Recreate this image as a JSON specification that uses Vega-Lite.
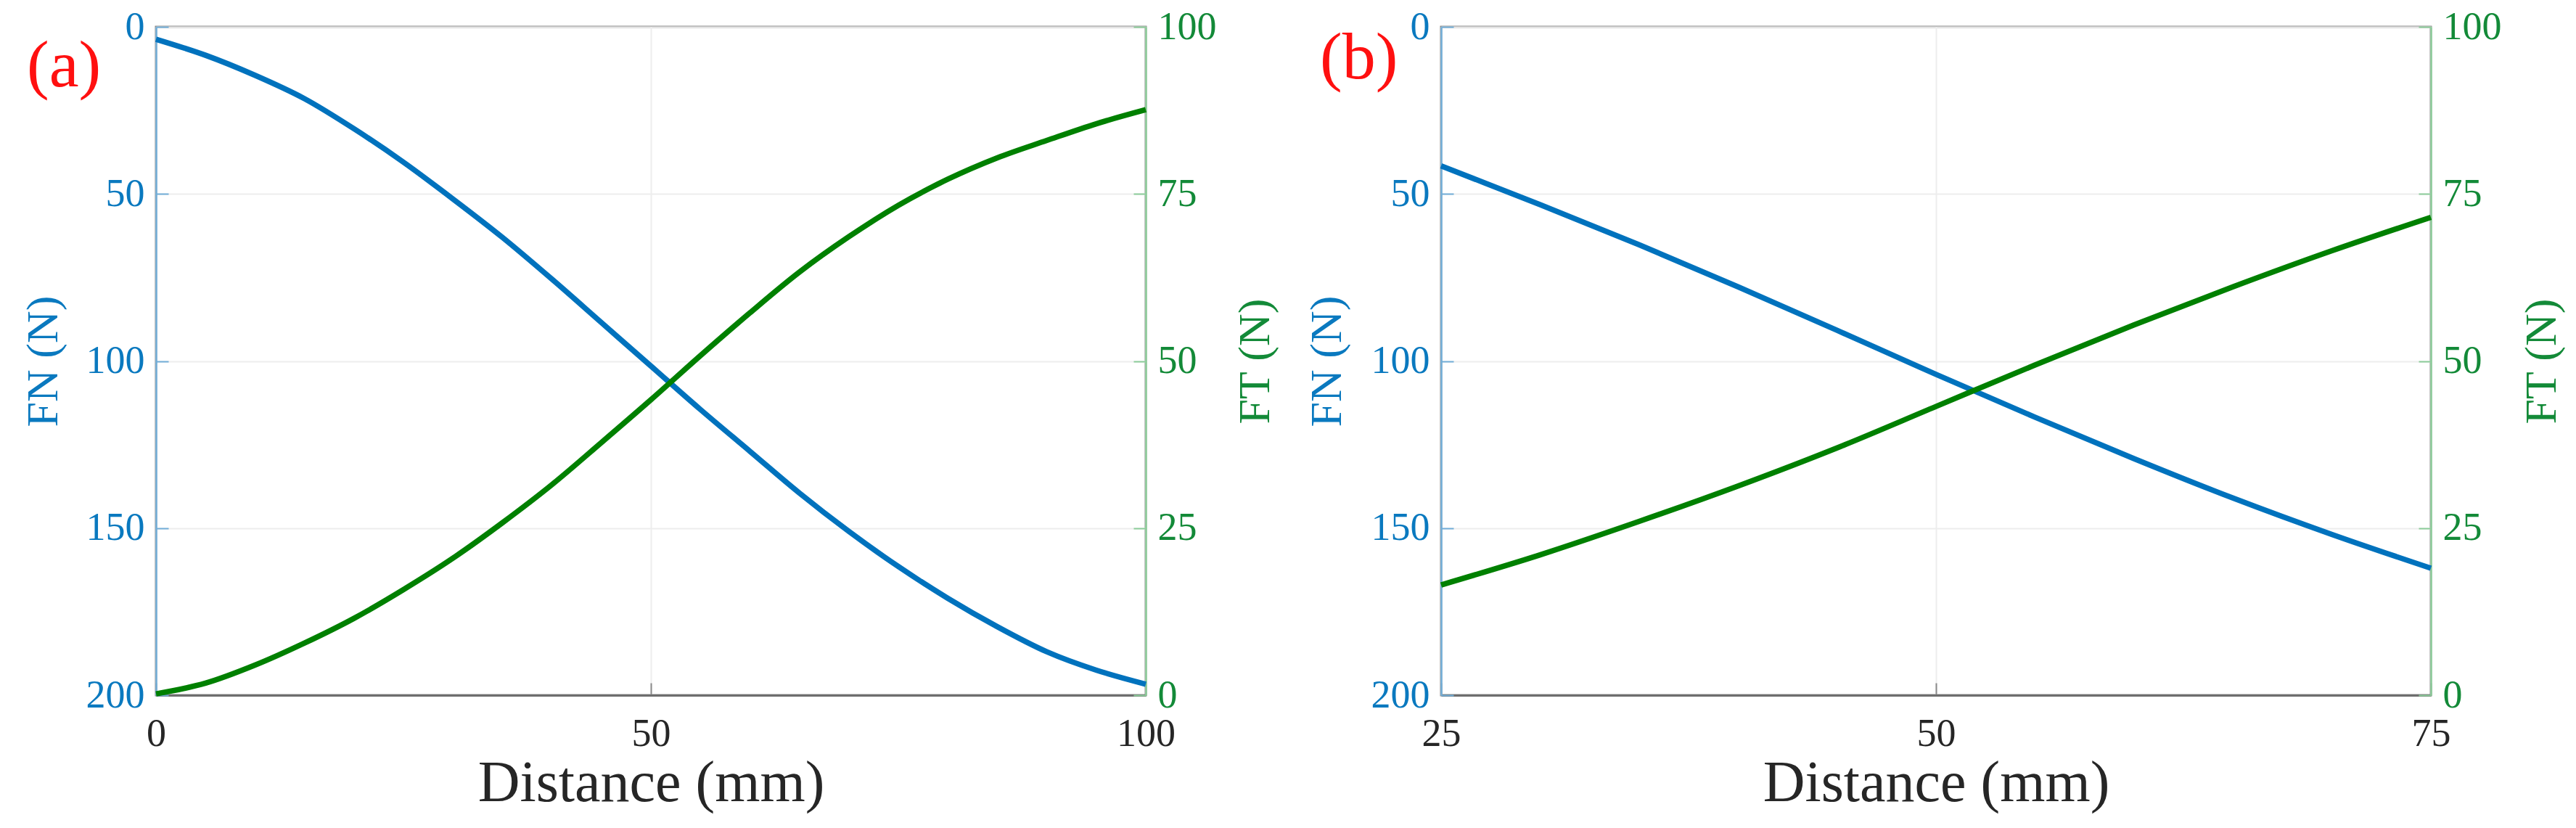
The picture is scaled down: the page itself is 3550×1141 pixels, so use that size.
{
  "$schema": "https://vega.github.io/schema/vega-lite/v6.json",
  "background": "white",
  "padding": {"left": 26, "top": 8, "right": 5, "bottom": 5},
  "bounds": "flush",
  "spacing": 407,
  "config": {
    "view": {"stroke": "#8a8a8a", "strokeWidth": 3},
    "axis": {
      "labelFont": "Liberation Serif", "titleFont": "Liberation Serif", "titleFontWeight": "normal",
      "labelFontSize": 54, "titleFontSize": 62, "labelOverlap": false, "labelFlush": false, "labelBound": false,
      "tickSize": -17, "tickWidth": 2, "domainWidth": 2.5, "gridColor": "#ededed", "gridWidth": 2
    },
    "title": {
      "font": "Liberation Serif", "fontWeight": "normal", "fontSize": 92, "color": "#ff1010",
      "anchor": "start", "frame": "group", "orient": "top", "offset": 0, "align": "left", "baseline": "alphabetic"
    }
  },
  "datasets": {
    "a": [
      {"d": 0, "FN": 3.7, "FT": 0.2},
      {"d": 5, "FN": 8.5, "FT": 1.8},
      {"d": 10, "FN": 14.5, "FT": 4.5},
      {"d": 15, "FN": 21.5, "FT": 7.8},
      {"d": 20, "FN": 30.5, "FT": 11.5},
      {"d": 25, "FN": 40.5, "FT": 15.8},
      {"d": 30, "FN": 51.5, "FT": 20.5},
      {"d": 35, "FN": 63, "FT": 25.8},
      {"d": 40, "FN": 75.5, "FT": 31.5},
      {"d": 45, "FN": 88.5, "FT": 37.8},
      {"d": 50, "FN": 101.5, "FT": 44.2},
      {"d": 55, "FN": 114.5, "FT": 50.8},
      {"d": 60, "FN": 127, "FT": 57.2},
      {"d": 65, "FN": 139.5, "FT": 63.3},
      {"d": 70, "FN": 151, "FT": 68.6},
      {"d": 75, "FN": 161.5, "FT": 73.3},
      {"d": 80, "FN": 171, "FT": 77.2},
      {"d": 85, "FN": 179.5, "FT": 80.4},
      {"d": 90, "FN": 187, "FT": 83.0},
      {"d": 95, "FN": 192.5, "FT": 85.5},
      {"d": 100, "FN": 196.7, "FT": 87.6}
    ],
    "b": [
      {"d": 25, "FN": 41.6, "FT": 16.5},
      {"d": 30, "FN": 53.2, "FT": 21.0},
      {"d": 35, "FN": 65.2, "FT": 26.0},
      {"d": 40, "FN": 77.8, "FT": 31.3},
      {"d": 45, "FN": 90.8, "FT": 37.0},
      {"d": 50, "FN": 104, "FT": 43.2},
      {"d": 55, "FN": 116.8, "FT": 49.4},
      {"d": 60, "FN": 129.2, "FT": 55.4},
      {"d": 65, "FN": 141, "FT": 61.1},
      {"d": 70, "FN": 151.9, "FT": 66.5},
      {"d": 75, "FN": 162, "FT": 71.5}
    ]
  },
  "hconcat": [
    {
      "width": 1364, "height": 921,
      "data": {"name": "a"},
      "title": {"text": "(a)", "dx": -178, "dy": 132},
      "encoding": {
        "x": {"field": "d", "type": "quantitative", "scale": {"domain": [0, 100], "nice": false, "zero": false},
          "axis": {"title": "Distance (mm)", "values": [0, 50, 100], "labelColor": "#262626", "titleColor": "#262626",
            "titleFontSize": 80, "domainColor": "#6e6e6e", "domainWidth": 3, "tickColor": "#8a8a8a", "grid": true,
            "labelPadding": 43, "titleY": 145, "titleBaseline": "alphabetic"}}
      },
      "layer": [
        {
          "mark": {"type": "line", "color": "#0072BD", "strokeWidth": 7.5, "interpolate": "monotone"},
          "encoding": {
            "y": {"field": "FN", "type": "quantitative", "scale": {"domain": [0, 200], "reverse": true, "nice": false, "zero": false},
              "axis": {"title": "FN (N)", "orient": "left", "values": [0, 50, 100, 150, 200], "labelColor": "#0a79bf", "titleColor": "#0a79bf",
                "domainColor": "#72aed8", "tickColor": "#72aed8", "grid": true, "labelPadding": 33,
                "titleX": -156, "titleY": 460.5, "titleAngle": 270, "titleBaseline": "middle", "titleAlign": "center"}}
          }
        },
        {
          "mark": {"type": "line", "color": "#008000", "strokeWidth": 7.5, "interpolate": "monotone"},
          "encoding": {
            "y": {"field": "FT", "type": "quantitative", "scale": {"domain": [0, 100], "nice": false, "zero": false},
              "axis": {"title": "FT (N)", "orient": "right", "values": [0, 25, 50, 75, 100], "labelColor": "#138a38", "titleColor": "#138a38",
                "domainColor": "#8ccd9a", "tickColor": "#8ccd9a", "grid": false, "labelPadding": 33,
                "titleX": 150, "titleY": 460.5, "titleAngle": 270, "titleBaseline": "middle", "titleAlign": "center"}}
          }
        }
      ],
      "resolve": {"scale": {"y": "independent"}}
    },
    {
      "width": 1364, "height": 921,
      "data": {"name": "b"},
      "title": {"text": "(b)", "dx": -167, "dy": 121},
      "encoding": {
        "x": {"field": "d", "type": "quantitative", "scale": {"domain": [25, 75], "nice": false, "zero": false},
          "axis": {"title": "Distance (mm)", "values": [25, 50, 75], "labelColor": "#262626", "titleColor": "#262626",
            "titleFontSize": 80, "domainColor": "#6e6e6e", "domainWidth": 3, "tickColor": "#8a8a8a", "grid": true,
            "labelPadding": 43, "titleY": 145, "titleBaseline": "alphabetic"}}
      },
      "layer": [
        {
          "mark": {"type": "line", "color": "#0072BD", "strokeWidth": 7.5, "interpolate": "monotone"},
          "encoding": {
            "y": {"field": "FN", "type": "quantitative", "scale": {"domain": [0, 200], "reverse": true, "nice": false, "zero": false},
              "axis": {"title": "FN (N)", "orient": "left", "values": [0, 50, 100, 150, 200], "labelColor": "#0a79bf", "titleColor": "#0a79bf",
                "domainColor": "#72aed8", "tickColor": "#72aed8", "grid": true, "labelPadding": 33,
                "titleX": -158, "titleY": 460.5, "titleAngle": 270, "titleBaseline": "middle", "titleAlign": "center"}}
          }
        },
        {
          "mark": {"type": "line", "color": "#008000", "strokeWidth": 7.5, "interpolate": "monotone"},
          "encoding": {
            "y": {"field": "FT", "type": "quantitative", "scale": {"domain": [0, 100], "nice": false, "zero": false},
              "axis": {"title": "FT (N)", "orient": "right", "values": [0, 25, 50, 75, 100], "labelColor": "#138a38", "titleColor": "#138a38",
                "domainColor": "#8ccd9a", "tickColor": "#8ccd9a", "grid": false, "labelPadding": 33,
                "titleX": 152, "titleY": 460.5, "titleAngle": 270, "titleBaseline": "middle", "titleAlign": "center"}}
          }
        }
      ],
      "resolve": {"scale": {"y": "independent"}}
    }
  ]
}
